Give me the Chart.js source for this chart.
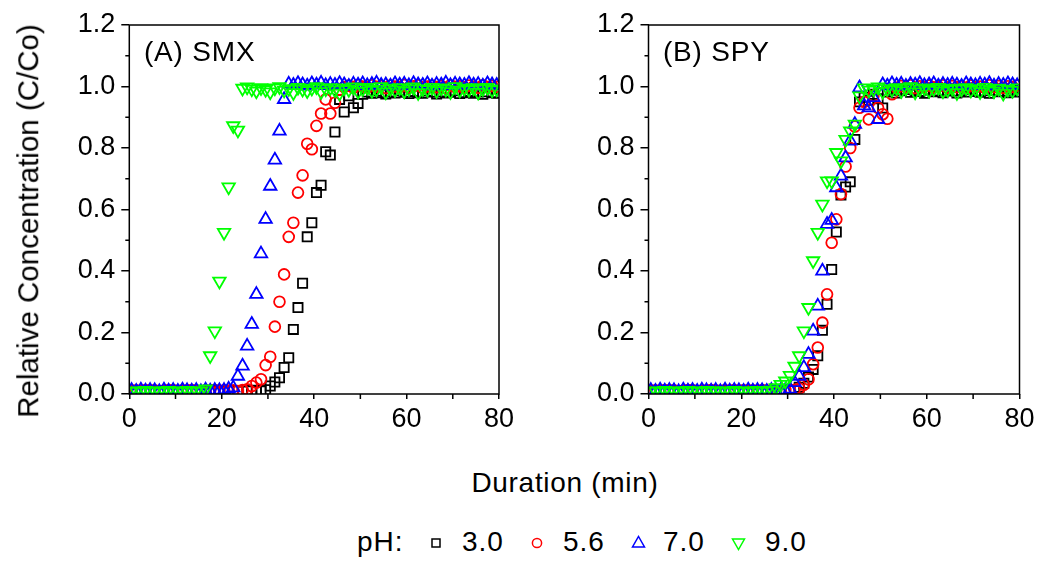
<!DOCTYPE html>
<html><head><meta charset="utf-8">
<script src="https://cdn.jsdelivr.net/npm/chart.js@4.4.1/dist/chart.umd.min.js"></script>
<style>
html,body{margin:0;padding:0;background:#fff;}
body{width:1043px;height:563px;position:relative;overflow:hidden;font-family:"Liberation Sans",Arial,sans-serif;color:#000;}
canvas{position:absolute;top:0;}
.t{position:absolute;white-space:nowrap;line-height:1;font-size:28px;}
svg{position:absolute;left:0;top:0;}
</style></head><body>
<canvas id="cA" width="520" height="440" style="left:0px"></canvas>
<canvas id="cB" width="523" height="440" style="left:520px"></canvas>
<div class="t" id="ytitle" style="font-size:29.5px;left:28px;top:221px;transform:translate(-50%,-50%) rotate(-90deg);">Relative Concentration (C/Co)</div>
<div class="t" style="left:144px;top:38px;letter-spacing:0.8px;">(A) SMX</div>
<div class="t" style="left:663px;top:38px;letter-spacing:0.8px;">(B) SPY</div>
<div class="t" style="left:565px;top:469px;transform:translateX(-50%);letter-spacing:0.7px;">Duration (min)</div>
<div class="t" style="left:357px;top:528px;letter-spacing:1px;">pH:</div>
<div class="t" id="lg0" style="left:462px;top:528px;letter-spacing:1px;"></div>
<div class="t" id="lg1" style="left:563px;top:528px;letter-spacing:1px;"></div>
<div class="t" id="lg2" style="left:663px;top:528px;letter-spacing:1px;"></div>
<div class="t" id="lg3" style="left:765px;top:528px;letter-spacing:1px;"></div>
<svg width="1043" height="563" viewBox="0 0 1043 563">
  <rect x="432" y="539" width="8" height="8" fill="none" stroke="#000" stroke-width="1.5"/>
  <circle cx="537" cy="543" r="4.6" fill="none" stroke="#ff0000" stroke-width="1.5"/>
  <polygon points="632.5,547 644.5,547 638.5,536.5" fill="none" stroke="#0000ff" stroke-width="1.5"/>
  <polygon points="732.5,539 744.5,539 738.5,549.5" fill="none" stroke="#00ff00" stroke-width="1.5"/>
</svg>
<script>
// sampling times (min), shared by all series
const times = [0.5,1.5,2.5,3.5,4.5,5.5,6.5,7.5,8.5,9.5,10.5,11.5,12.5,13.5,14.5,15.5,16.5,17.5,18.5,19.5,
20.5,21.5,22.5,23.5,24.5,25.5,26.5,27.5,28.5,29.5,30.5,31.5,32.5,33.5,34.5,35.5,36.5,37.5,38.5,39.5,
40.5,41.5,42.5,43.5,44.5,45.5,46.5,47.5,48.5,49.5,50.5,51.5,52.5,53.5,54.5,55.5,56.5,57.5,58.5,59.5,
60.5,61.5,62.5,63.5,64.5,65.5,66.5,67.5,68.5,69.5,70.5,71.5,72.5,73.5,74.5,75.5,76.5,77.5,78.5,79.5];

const seriesLabels = ['3.0','5.6','7.0','9.0'];
const xTicks = [0,20,40,60,80];
const yTicks = [0.0,0.2,0.4,0.6,0.8,1.0,1.2];
const xMinor = [10,30,50,70];
const yMinor = [0.1,0.3,0.5,0.7,0.9,1.1];

// (A) SMX
const smx_pH30 = [0.010,0.011,0.009,0.010,0.012,0.010,0.009,0.011,0.010,0.010,0.012,0.009,0.010,0.011,0.010,0.009,0.011,0.010,0.012,0.010,
0.009,0.010,0.011,0.010,0.009,0.011,0.010,0.012,0.010,
0.014,0.026,0.039,0.053,0.086,0.118,0.210,0.281,0.360,0.511,0.557,0.655,0.679,0.788,0.777,0.852,0.958,0.917,0.970,0.931,0.945,
0.975,0.982,0.978,0.985,0.980,0.976,0.983,0.979,0.986,0.981,0.977,0.984,0.980,0.978,0.985,0.982,0.976,0.983,0.979,0.981,
0.986,0.977,0.980,0.984,0.978,0.982,0.975,0.983,0.980,0.978];
const smx_pH56 = [0.011,0.012,0.010,0.013,0.011,0.012,0.010,0.011,0.013,0.012,0.010,0.011,0.012,0.013,0.011,0.010,0.012,0.011,0.013,0.010,
0.012,0.011,0.012,0.010,0.013,
0.015,0.026,0.037,0.048,0.094,0.121,0.219,0.300,0.389,0.511,0.557,0.655,0.711,0.814,0.796,0.872,0.912,0.958,0.912,0.947,0.990,
0.998,1.003,0.996,1.005,1.000,0.997,1.004,0.999,1.002,0.995,1.003,1.000,0.998,1.005,0.997,1.001,1.004,0.996,1.000,1.003,
0.998,1.002,0.995,1.004,0.999,1.001,0.997,1.003,1.000,0.996,1.004,0.998,1.002,0.999];
const smx_pH70 = [0.012,0.009,0.013,0.010,0.012,0.011,0.008,0.013,0.010,0.012,0.009,0.013,0.011,0.010,0.012,0.008,0.013,0.010,0.012,0.011,
0.012,0.016,0.020,0.058,0.091,0.156,0.227,0.324,0.456,0.568,0.676,0.761,0.855,0.958,
1.008,1.004,1.010,1.006,1.002,1.009,1.005,1.011,1.003,1.007,1.004,1.010,1.006,1.001,1.008,1.005,1.009,1.003,1.007,1.011,
1.004,1.006,1.002,1.009,1.005,1.008,1.003,1.010,1.006,1.004,1.009,1.002,1.007,1.005,1.011,1.003,1.008,1.006,1.004,1.010,
1.005,1.007,1.002,1.009,1.006,1.004];
const smx_pH90 = [0.009,0.010,0.008,0.011,0.009,0.010,0.008,0.010,0.011,0.009,0.010,0.008,0.011,0.009,0.010,0.009,0.016,
0.124,0.205,0.367,0.525,0.673,0.872,0.858,0.994,
0.998,0.992,0.985,0.996,0.990,0.982,0.995,0.999,0.988,0.993,0.980,0.997,0.991,0.986,0.994,0.999,0.983,0.992,0.996,0.989,
0.978,0.995,0.990,0.998,0.984,0.993,0.997,0.987,0.991,0.999,0.982,0.994,0.989,0.996,0.985,0.992,0.998,0.980,0.993,0.990,
0.997,0.986,0.995,0.991,0.983,0.999,0.988,0.994,0.990,0.996,0.981,0.993,0.997,0.989,0.992];

// (B) SPY
const spy_pH30 = [0.010,0.009,0.011,0.010,0.012,0.010,0.009,0.011,0.010,0.012,0.009,0.010,0.011,0.010,0.009,0.012,0.010,0.011,0.009,0.010,
0.012,0.010,0.011,0.009,0.010,0.011,0.010,0.012,0.009,0.010,0.011,
0.014,0.022,0.035,0.055,0.080,0.124,0.207,0.292,0.405,0.527,0.647,0.673,0.690,0.828,0.950,0.965,0.955,0.975,0.960,0.930,
0.982,0.988,0.979,0.986,0.990,0.981,0.987,0.984,0.978,0.989,0.983,0.986,0.980,0.988,0.985,0.979,0.987,0.982,0.990,0.984,
0.981,0.986,0.978,0.988,0.983,0.985,0.980,0.987,0.982];
const spy_pH56 = [0.011,0.012,0.010,0.013,0.011,0.012,0.010,0.011,0.013,0.012,0.010,0.011,0.012,0.013,0.011,0.010,0.012,0.011,0.013,0.010,
0.012,0.011,0.012,0.010,0.013,0.011,0.012,0.010,0.011,0.013,0.012,0.014,0.018,
0.030,0.048,0.097,0.151,0.232,0.324,0.492,0.568,0.650,0.740,0.800,0.870,0.931,0.950,0.893,0.970,0.931,0.910,0.895,0.975,
0.996,1.002,0.998,1.004,0.995,1.001,0.999,1.003,0.997,1.000,1.004,0.996,1.002,0.998,1.001,0.995,1.003,0.999,1.000,0.997,
1.004,0.998,1.002,0.996,1.001,0.999,1.003];
const spy_pH70 = [0.012,0.009,0.013,0.010,0.012,0.011,0.008,0.013,0.010,0.012,0.009,0.013,0.011,0.010,0.012,0.008,0.013,0.010,0.012,0.011,
0.009,0.013,0.010,0.012,0.011,0.009,0.012,0.010,0.011,0.012,
0.016,0.037,0.058,0.086,0.129,0.205,0.286,0.400,0.552,0.565,0.671,0.709,0.768,0.823,0.877,0.996,0.937,0.931,0.964,0.893,
1.006,1.002,1.009,1.004,1.008,1.001,1.007,1.005,1.010,1.003,1.006,1.009,1.002,1.007,1.004,1.008,1.005,1.001,1.009,1.006,
1.003,1.008,1.005,1.010,1.002,1.007,1.004,1.009,1.006,1.003];
const spy_pH90 = [0.009,0.010,0.008,0.011,0.009,0.010,0.008,0.010,0.011,0.009,0.010,0.008,0.011,0.009,0.010,0.009,0.010,0.008,0.011,0.009,
0.010,0.008,0.010,0.011,0.009,0.010,0.012,
0.020,0.031,0.042,0.060,0.090,0.124,0.205,0.281,0.433,0.525,0.617,0.693,0.693,0.785,0.758,0.828,0.855,0.877,0.969,
0.995,0.988,0.992,0.998,0.984,0.993,0.990,0.996,0.986,0.994,0.999,0.982,0.991,0.995,0.987,0.993,0.997,0.985,0.990,0.994,
0.980,0.992,0.996,0.988,0.993,0.983,0.997,0.990,0.985,0.994,0.978,0.991,0.987,0.995];

const FONT = '"Liberation Sans", Arial, sans-serif';
const styles = [
  {pointStyle:'rect', pointRadius:6.5, pointBorderColor:'#000000', pointRotation:0, order:4},
  {pointStyle:'circle', pointRadius:5.4, pointBorderColor:'#ff0000', pointRotation:0, order:3},
  {pointStyle:'triangle', pointRadius:7.2, pointBorderColor:'#0000ff', pointRotation:0, order:2},
  {pointStyle:'triangle', pointRadius:7.2, pointBorderColor:'#00ff00', pointRotation:180, order:1}
];

seriesLabels.forEach((l,i)=>{document.getElementById('lg'+i).textContent = l;});

const framePlugin = {
  id:'frame',
  afterDraw(chart){
    const {ctx, chartArea:a, scales:{x, y}} = chart;
    ctx.save();
    ctx.strokeStyle = '#000'; ctx.lineWidth = 1.5;
    ctx.strokeRect(a.left, a.top, a.right - a.left, a.bottom - a.top);
    ctx.beginPath();
    xMinor.forEach(v=>{const px = x.getPixelForValue(v); ctx.moveTo(px, a.bottom); ctx.lineTo(px, a.bottom + 5);});
    yMinor.forEach(v=>{const py = y.getPixelForValue(v); ctx.moveTo(a.left, py); ctx.lineTo(a.left - 4, py);});
    ctx.stroke();
    ctx.restore();
  }
};

function makeChart(id, seriesList, yWidth, padRight){
  const datasets = seriesList.map((vals, i) => Object.assign({
    label: seriesLabels[i],
    data: times.map((t, k) => ({x: t, y: vals[k]})),
    pointBackgroundColor: 'rgba(0,0,0,0)',
    pointBorderWidth: 1.8,
    pointHoverRadius: styles[i].pointRadius,
    showLine: false,
    clip: 0
  }, styles[i]));
  return new Chart(document.getElementById(id), {
    type: 'scatter',
    data: {datasets},
    options: {
      responsive: false, animation: false, devicePixelRatio: 1,
      layout: {padding: {top: 25, right: padRight, left: 0, bottom: 0}},
      plugins: {legend: {display: false}, tooltip: {enabled: false}},
      scales: {
        x: {
          type: 'linear', min: xTicks[0], max: xTicks[xTicks.length-1],
          afterFit: s => { s.height = 46; },
          afterBuildTicks: s => { s.ticks = xTicks.map(v => ({value: v})); },
          ticks: {font: {family: FONT, size: 27}, color: '#000', padding: 4, maxRotation: 0, autoSkip: false},
          grid: {drawOnChartArea: false, drawTicks: true, tickLength: 5, color: '#000', lineWidth: 1.5},
          border: {display: false}
        },
        y: {
          type: 'linear', min: yTicks[0], max: yTicks[yTicks.length-1],
          afterFit: s => { s.width = yWidth; },
          afterBuildTicks: s => { s.ticks = yTicks.map(v => ({value: v})); },
          ticks: {font: {family: FONT, size: 27}, color: '#000', padding: 6, autoSkip: false, callback: v => Number(v).toFixed(1)},
          grid: {drawOnChartArea: false, drawTicks: true, tickLength: 8, color: '#000', lineWidth: 1.5},
          border: {display: false}
        }
      }
    },
    plugins: [framePlugin]
  });
}

makeChart('cA', [smx_pH30, smx_pH56, smx_pH70, smx_pH90], 129.3, 21);
makeChart('cB', [spy_pH30, spy_pH56, spy_pH70, spy_pH90], 128.5, 23.5);
</script>
</body></html>
